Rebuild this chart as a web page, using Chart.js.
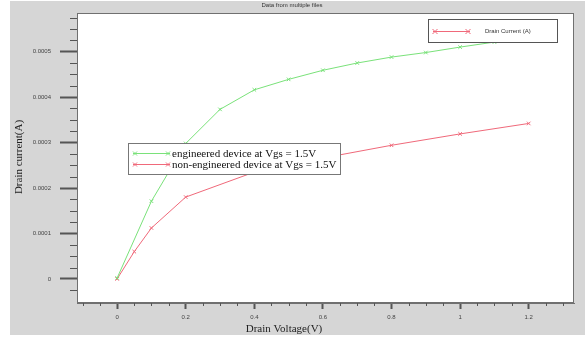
<!DOCTYPE html>
<html>
<head>
<meta charset="utf-8">
<script src="https://cdn.jsdelivr.net/npm/chart.js@4/dist/chart.umd.min.js"></script>
<style>
  html, body { margin: 0; padding: 0; background: #fff; }
  #wrap { width: 585px; height: 338px; }
</style>
</head>
<body>
<div id="wrap"><canvas id="c" width="585" height="338"></canvas></div>
<script>
// --- datos ---
const voltageEng = [0, 0.1, 0.2, 0.3, 0.4, 0.5, 0.6, 0.7, 0.8, 0.9, 1.0, 1.1, 1.2];
const currentEng = [0.000002, 0.000171, 0.000298, 0.000373, 0.000416, 0.000439, 0.000459, 0.000475, 0.000488, 0.000498, 0.000510, 0.000521, 0.000526];

const voltageNonEng = [0, 0.05, 0.1, 0.2, 0.4, 0.6, 0.8, 1.0, 1.2];
const currentNonEng = [0, 0.000060, 0.000112, 0.000180, 0.000235, 0.000266, 0.000294, 0.000319, 0.000342];

const seriesLabels = ['engineered device at Vgs = 1.5V', 'non-engineered device at Vgs = 1.5V'];
const xTicks = [0, 0.2, 0.4, 0.6, 0.8, 1, 1.2];
const yTicks = [0, 0.0001, 0.0002, 0.0003, 0.0004, 0.0005];
const chartTitle = 'Data from multiple files';
const xTitle = 'Drain Voltage(V)';
const yTitle = 'Drain current(A)';
const topLegendLabel = 'Drain Current (A)';

const GREEN = '#7ae27a';
const RED = '#f0697a';
const TICK = '#555';
const SERIF = '"Liberation Serif", "Times New Roman", serif';
const SANS = '"Liberation Sans", Arial, sans-serif';

const toPts = (xs, ys) => xs.map((x, i) => ({ x, y: ys[i] }));

// pequeno "x" como en la leyenda original
function cross(ctx, x, y, r, color){
  ctx.strokeStyle = color; ctx.lineWidth = 1;
  ctx.beginPath();
  ctx.moveTo(x - r, y - r); ctx.lineTo(x + r, y + r);
  ctx.moveTo(x - r, y + r); ctx.lineTo(x + r, y - r);
  ctx.stroke();
}

const decor = {
  id: 'decor',
  beforeDraw(chart){
    const ctx = chart.ctx;
    ctx.save();
    ctx.fillStyle = '#fff';
    ctx.fillRect(0, 0, chart.width, chart.height);
    ctx.fillStyle = '#d6d6d6';
    ctx.fillRect(10, 1, chart.width - 10, 334);
    const a = chart.chartArea;
    ctx.fillStyle = '#fff';
    ctx.fillRect(a.left, a.top, a.right - a.left, a.bottom - a.top);
    ctx.restore();
  },
  afterDraw(chart){
    const ctx = chart.ctx;
    const a = chart.chartArea;
    const xs = chart.scales.x, ys = chart.scales.y;
    ctx.save();

    // marco completo
    ctx.strokeStyle = '#707070'; ctx.lineWidth = 1;
    ctx.strokeRect(a.left + 0.5, a.top + 0.5, a.right - a.left - 1, a.bottom - a.top - 1);

    // ticks menores
    ctx.strokeStyle = TICK; ctx.lineWidth = 1;
    for (let k = -2; k <= 26; k++){
      if (k % 4 === 0) continue;
      const px = Math.round(xs.getPixelForValue(k * 0.05)) + 0.5;
      if (px < a.left || px > a.right) continue;
      ctx.beginPath(); ctx.moveTo(px, a.bottom); ctx.lineTo(px, a.bottom + 3); ctx.stroke();
    }
    for (let k = -1; k <= 23; k++){
      if (k % 4 === 0) continue;
      const py = Math.round(ys.getPixelForValue(k * 0.000025)) + 0.5;
      if (py < a.top || py > a.bottom) continue;
      ctx.beginPath(); ctx.moveTo(a.left, py); ctx.lineTo(a.left - 7, py); ctx.stroke();
    }

    // titulo
    ctx.fillStyle = '#333';
    ctx.font = '6px ' + SANS;
    ctx.textAlign = 'center'; ctx.textBaseline = 'middle';
    ctx.fillText(chartTitle, 292, 5);

    // titulos de ejes
    ctx.fillStyle = '#222';
    ctx.font = '11px ' + SERIF;
    ctx.fillText(xTitle, 284, 329);
    ctx.save();
    ctx.translate(19, 157);
    ctx.rotate(-Math.PI / 2);
    ctx.fillText(yTitle, 0, 0);
    ctx.restore();

    // leyenda superior derecha
    ctx.fillStyle = '#fff';
    ctx.fillRect(428, 19, 129, 23);
    ctx.strokeStyle = '#555';
    ctx.strokeRect(428.5, 19.5, 129, 23);
    ctx.strokeStyle = RED;
    ctx.beginPath(); ctx.moveTo(433, 31.5); ctx.lineTo(470, 31.5); ctx.stroke();
    cross(ctx, 435, 31.5, 2.5, RED);
    cross(ctx, 468, 31.5, 2.5, RED);
    ctx.fillStyle = '#333';
    ctx.font = '6px ' + SANS;
    ctx.textAlign = 'left';
    ctx.fillText(topLegendLabel, 485, 31.5);

    // leyenda de series
    ctx.fillStyle = '#fff';
    ctx.fillRect(128, 143, 212, 31);
    ctx.strokeStyle = '#777'; ctx.lineWidth = 1;
    ctx.strokeRect(128.5, 143.5, 212, 31);
    const colors = [GREEN, RED];
    seriesLabels.forEach((lab, i) => {
      const y = 153.5 + i * 11;
      ctx.strokeStyle = colors[i]; ctx.lineWidth = 1;
      ctx.beginPath(); ctx.moveTo(133, y); ctx.lineTo(170, y); ctx.stroke();
      cross(ctx, 135, y, 2, colors[i]);
      cross(ctx, 168, y, 2, colors[i]);
      ctx.fillStyle = '#111';
      ctx.font = '11px ' + SERIF;
      ctx.textAlign = 'left'; ctx.textBaseline = 'middle';
      ctx.fillText(lab, 172, y + 0.5);
    });

    ctx.restore();
  }
};

const commonDs = { showLine: true, borderWidth: 1, pointStyle: 'crossRot', pointRadius: 2.5, pointBorderWidth: 1, tension: 0 };

new Chart(document.getElementById('c'), {
  type: 'scatter',
  data: {
    datasets: [
      { ...commonDs, label: seriesLabels[0], data: toPts(voltageEng, currentEng), borderColor: GREEN, backgroundColor: GREEN },
      { ...commonDs, label: seriesLabels[1], data: toPts(voltageNonEng, currentNonEng), borderColor: RED, backgroundColor: RED }
    ]
  },
  options: {
    responsive: false,
    animation: false,
    layout: { padding: { left: 10, top: 13, right: 11, bottom: 0 } },
    plugins: { legend: { display: false }, title: { display: false }, tooltip: { enabled: false } },
    scales: {
      x: {
        type: 'linear', min: -0.117, max: 1.332,
        afterBuildTicks: s => { s.ticks = xTicks.map(v => ({ value: v })); },
        afterFit: s => { s.height = 35; },
        ticks: { color: '#444', font: { size: 6, family: SANS }, padding: 5, maxRotation: 0, autoSkip: false,
                 callback: v => String(v) },
        grid: { drawOnChartArea: false, tickLength: 6, tickWidth: 2, tickColor: TICK },
        border: { display: true, color: '#707070' }
      },
      y: {
        type: 'linear', min: -0.000053, max: 0.000585,
        afterBuildTicks: s => { s.ticks = yTicks.map(v => ({ value: v })); },
        afterFit: s => { s.width = 67; },
        ticks: { color: '#444', font: { size: 6, family: SANS }, padding: 9, autoSkip: false,
                 callback: v => v === 0 ? '0' : v.toFixed(4) },
        grid: { drawOnChartArea: false, tickLength: 17, tickWidth: 2, tickColor: TICK },
        border: { display: true, color: '#707070' }
      }
    }
  },
  plugins: [decor]
});
</script>
</body>
</html>
